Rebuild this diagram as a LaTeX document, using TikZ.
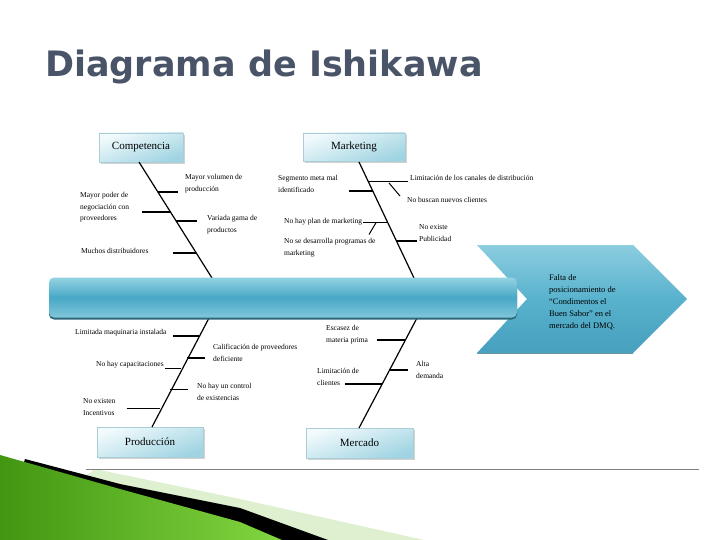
\documentclass[tikz,border=0pt]{standalone}
\usepackage{fontspec}
\setmainfont{Liberation Serif}
\newfontfamily\titlefont{DejaVu Sans}
\usetikzlibrary{shadows,calc}
\definecolor{titlecol}{RGB}{74,84,104}
\definecolor{bartop}{RGB}{148,210,226}
\definecolor{barmid}{RGB}{72,168,198}
\definecolor{barbot}{RGB}{128,198,218}
\definecolor{baredge}{RGB}{44,104,122}
\definecolor{chevtop}{RGB}{140,205,223}
\definecolor{chevmid}{RGB}{88,178,205}
\definecolor{chevbot}{RGB}{70,160,190}
\definecolor{boxdark}{RGB}{160,212,226}
\definecolor{boxlight}{RGB}{242,250,252}
\definecolor{boxedge}{RGB}{170,206,216}
\definecolor{rulecol}{RGB}{128,128,128}
\definecolor{greendark}{RGB}{66,150,18}
\definecolor{greenlight}{RGB}{130,214,64}
\definecolor{palegreen}{RGB}{222,240,208}
\tikzset{
  spine/.style={line width=1.2pt, black},
  bone/.style={line width=1.6pt, black},
  subbone/.style={line width=1pt, black},
  lbl/.style={font=\fontsize{7.5}{11.5}\selectfont, align=left, inner sep=0pt, anchor=north west},
  catbox/.style={draw=boxedge, line width=0.4pt, top color=boxlight, bottom color=boxdark, shading angle=20,
    drop shadow={shadow xshift=1.5pt, shadow yshift=-1.8pt, opacity=0.35},
    font=\fontsize{11}{13}\selectfont, inner sep=0pt},
}
\begin{document}
\begin{tikzpicture}[x=1pt,y=-1pt]
\useasboundingbox (0,0) rectangle (720,540);
\fill[white] (0,0) rectangle (720,540);

% title
\node[anchor=base west, inner sep=0, text=titlecol, font=\titlefont\bfseries\fontsize{35}{40}\selectfont] (title) at (45,77) {Diagrama de Ishikawa};

% green corner decoration
\fill[palegreen] (95,469) -- (240,499) -- (424,540) -- (0,540) -- cycle;
\fill[black] (25,459) -- (120,484) -- (240,508) -- (328,540) -- (0,540) -- cycle;
\shade[left color=greendark, right color=greenlight] (0,455) -- (120,489) -- (240,522) -- (282,540) -- (0,540) -- cycle;

% bottom rule
\coordinate (r1) at (86,469); \coordinate (r2) at (699,469);
\draw[rulecol, line width=1pt] (r1) -- (r2);

% category boxes
\node[catbox, minimum width=84pt, minimum height=29pt] (comp) at (141,147.5) {Competencia};
\node[catbox, minimum width=102pt, minimum height=28pt] (mark) at (354,147) {Marketing};
\node[catbox, minimum width=106pt, minimum height=30pt] (prod) at (150,442) {Producción};
\node[catbox, minimum width=107pt, minimum height=30pt] (merc) at (359.5,443) {Mercado};

% spine coordinates
\coordinate (cT) at (139,162); \coordinate (cB) at (212,278);
\coordinate (mT) at (359,162); \coordinate (mB) at (414,278);
\coordinate (pT) at (209,318); \coordinate (pB) at (152,427);
\coordinate (kT) at (417,318); \coordinate (kB) at (359,428);
\draw[spine] (cT) -- (cB);
\draw[spine] (mT) -- (mB);
\draw[spine] (pT) -- (pB);
\draw[spine] (kT) -- (kB);

% chevron (effect)
\shade[top color=chevtop, bottom color=chevbot, middle color=chevmid]
  (477,245) -- (633,245) -- (687,299) -- (633,353) -- (477,353) -- (527,299) -- cycle;
\draw[baredge!70, line width=1pt] (633,353.5) -- (477,353.5);
\node[lbl, font=\fontsize{8.5}{12}\selectfont] (effect) at (549,274.5)
  {Falta de\\posicionamiento de\\“Condimentos el\\Buen Sabor” en el\\mercado del DMQ.};

% main bar
\fill[baredge, rounded corners=5pt] (49,280) rectangle (517,319.5);
\shade[top color=bartop, bottom color=barbot, middle color=barmid, rounded corners=5pt] (49,277.5) rectangle (517,317.5);

% Competencia bones
\coordinate (c1a) at (158,192); \coordinate (c1b) at (178,192);
\coordinate (c2a) at (142,212); \coordinate (c2b) at (170.5,212);
\coordinate (c3a) at (176,221); \coordinate (c3b) at (197,221);
\coordinate (c4a) at (173,253); \coordinate (c4b) at (196,253);
\draw[bone] (c1a) -- (c1b);
\draw[bone] (c2a) -- (c2b);
\draw[bone] (c3a) -- (c3b);
\draw[bone] (c4a) -- (c4b);
\node[lbl] (t1) at (185,174.5) {Mayor volumen de\\producción};
\node[lbl] (t2) at (80,192.5) {Mayor poder de\\negociación con\\proveedores};
\node[lbl] (t3) at (207,215.5) {Variada gama de\\productos};
\node[lbl] (t4) at (81,248.5) {Muchos distribuidores};

% Marketing bones
\coordinate (m1a) at (349,191); \coordinate (m1b) at (372.5,191);
\coordinate (m2a) at (368,181.5); \coordinate (m2b) at (408,181.5);
\coordinate (m3a) at (389,183); \coordinate (m3b) at (400,196);
\coordinate (m4a) at (363,222.7); \coordinate (m4b) at (387.5,222.7);
\coordinate (m5a) at (376,222.7); \coordinate (m5b) at (369,234.5);
\coordinate (m6a) at (396.3,241); \coordinate (m6b) at (417,241);
\draw[bone] (m1a) -- (m1b);
\draw[bone] (m2a) -- (m2b);
\draw[subbone] (m3a) -- (m3b);
\draw[subbone] (m4a) -- (m4b);
\draw[subbone] (m5a) -- (m5b);
\draw[bone] (m6a) -- (m6b);
\node[lbl] (u1) at (278,175.5) {Segmento meta mal\\identificado};
\node[lbl] (u2) at (410,175) {Limitación de los canales de distribución};
\node[lbl] (u3) at (407,197.5) {No buscan nuevos clientes};
\node[lbl] (u4) at (284,218.5) {No hay plan de marketing};
\node[lbl] (u5) at (284,238.5) {No se desarrolla programas de\\marketing};
\node[lbl] (u6) at (419,224.5) {No existe\\Publicidad};

% Produccion bones
\coordinate (p1a) at (173,336); \coordinate (p1b) at (199,336);
\coordinate (p2a) at (187.2,357.7); \coordinate (p2b) at (205,357.7);
\coordinate (p3a) at (165,368.3); \coordinate (p3b) at (181.4,368.3);
\coordinate (p4a) at (170.1,389.3); \coordinate (p4b) at (188.3,389.3);
\coordinate (p5a) at (126.7,408.3); \coordinate (p5b) at (159.8,408.3);
\draw[bone] (p1a) -- (p1b);
\draw[bone] (p2a) -- (p2b);
\draw[bone] (p3a) -- (p3b);
\draw[bone] (p4a) -- (p4b);
\draw[bone] (p5a) -- (p5b);
\node[lbl] (v1) at (75,329.5) {Limitada maquinaria instalada};
\node[lbl] (v2) at (213,344.5) {Calificación de proveedores\\deficiente};
\node[lbl] (v3) at (96,361.5) {No hay capacitaciones};
\node[lbl] (v4) at (197,383.5) {No hay un control\\de existencias};
\node[lbl] (v5) at (83,398.5) {No existen\\Incentivos};

% Mercado bones
\coordinate (k1a) at (376.7,340); \coordinate (k1b) at (404.5,340);
\coordinate (k2a) at (388.9,370); \coordinate (k2b) at (408.3,370);
\coordinate (k3a) at (345,384); \coordinate (k3b) at (381.6,384);
\draw[bone] (k1a) -- (k1b);
\draw[bone] (k2a) -- (k2b);
\draw[bone] (k3a) -- (k3b);
\node[lbl] (w1) at (326,325.5) {Escasez de\\materia prima};
\node[lbl] (w2) at (416,361.5) {Alta\\demanda};
\node[lbl] (w3) at (317,368.5) {Limitación de\\clientes};
\end{tikzpicture}
\end{document}
